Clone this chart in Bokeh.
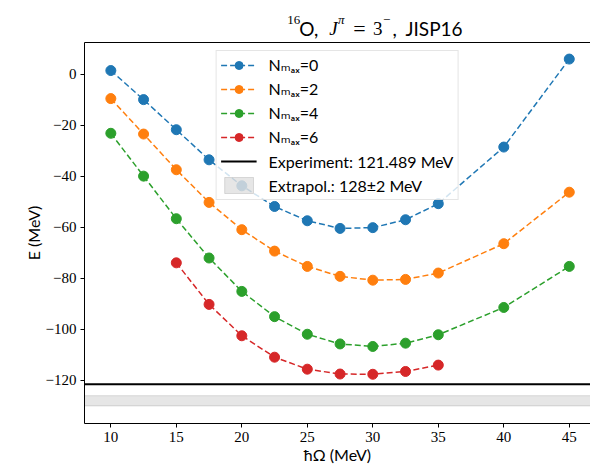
from bokeh.plotting import figure
from bokeh.layouts import column
from bokeh.models import (Label, Legend, LegendItem, LinearAxis, FixedTicker,
                          Range1d, CustomJSTickFormatter)
from bokeh.embed import file_html
from bokeh.resources import INLINE

# ---------------- data ----------------
hw_all = [10, 12.5, 15, 17.5, 20, 22.5, 25, 27.5, 30, 32.5, 35, 40, 45]
hw_n6 = [15, 17.5, 20, 22.5, 25, 27.5, 30, 32.5, 35]
e_n0 = [1.5, -9.9, -21.7, -33.5, -43.7, -51.8, -57.4, -60.4, -60.1, -57.0, -50.7, -28.5, 6.0]
e_n2 = [-9.5, -23.4, -37.4, -50.2, -60.9, -69.3, -75.3, -79.2, -80.7, -80.4, -77.9, -66.4, -46.2]
e_n4 = [-23.1, -39.9, -56.6, -72.0, -85.1, -95.0, -101.9, -105.7, -106.7, -105.4, -102.1, -91.4, -75.3]
e_n6 = [-73.9, -90.2, -102.5, -110.9, -115.6, -117.5, -117.6, -116.5, -114.0]
series_labels = ["Nₘₐₓ=0", "Nₘₐₓ=2", "Nₘₐₓ=4", "Nₘₐₓ=6"]
series_colors = ["#1f77b4", "#ff7f0e", "#2ca02c", "#d62728"]
exp_energy = -121.489
extrap_energy = -128.0
extrap_err = 2.0
exp_label = "Experiment: 121.489 MeV"
extrap_label = "Extrapol.: 128±2 MeV"
x_ticks = [10, 15, 20, 25, 30, 35, 40, 45]
y_ticks = [0, -20, -40, -60, -80, -100, -120]
x_lim = (7.99, 46.62)
y_lim = (-136.9, 12.5)
x_title = "ħΩ (MeV)"
y_title = "E (MeV)"

SANS = "Lato, DejaVu Sans"
SERIF = "Liberation Serif"

W, H = 590, 474
TH = 40  # title strip height

# ---------------- title strip (pixel coordinates) ----------------
t = figure(width=W, height=TH, output_backend="svg", toolbar_location=None,
           x_range=Range1d(0, W), y_range=Range1d(0, TH),
           x_axis_type=None, y_axis_type=None,
           min_border_left=0, min_border_right=0, min_border_top=0, min_border_bottom=0,
           outline_line_color=None)
t.title.visible = False
t.grid.visible = False
t.background_fill_color = "white"
t.border_fill_color = "white"


def tl(text, x, y, font, size, style="normal"):
    t.add_layout(Label(x=x, y=y, text=text, text_font=font, text_font_size=size,
                       text_font_style=style, text_color="black",
                       text_align="left", text_baseline="alphabetic"))


# 16O, J^pi = 3^-, JISP16   (baseline at 12 px above the strip's bottom)
tl("16", 236.5, 20.5, SERIF, "13px")
tl("O,", 250.5, 12, SANS, "19px")
tl("J", 285.5, 12, SERIF, "19px", "italic")
tl("π", 295.5, 21, SERIF, "13px", "italic")
tl("=", 313.5, 12, SERIF, "22px")
tl("3", 336.5, 12, SERIF, "19px")
tl("−", 348.0, 20.5, SERIF, "13px")
tl(",", 359.0, 12, SANS, "19px")
tl("JISP16", 374.3, 12, SANS, "19px")

# ---------------- main plot ----------------
p = figure(width=W, height=H - TH, output_backend="svg", toolbar_location=None,
           x_range=Range1d(*x_lim), y_range=Range1d(*y_lim),
           min_border_left=84, min_border_right=0, min_border_top=42 - TH,
           min_border_bottom=51, outline_line_color=None)
p.title.visible = False
p.xgrid.visible = False
p.ygrid.visible = False
p.background_fill_color = "white"
p.border_fill_color = "white"

fmt = CustomJSTickFormatter(code="return (tick < 0 ? '\u2212' : '') + Math.abs(tick).toString();")
for ax, ticks in ((p.xaxis[0], x_ticks), (p.yaxis[0], y_ticks)):
    ax.ticker = FixedTicker(ticks=ticks)
    ax.formatter = fmt
    ax.major_tick_out = 4
    ax.major_tick_in = 0
    ax.minor_tick_out = 0
    ax.minor_tick_in = 0
    ax.major_label_text_font = SERIF
    ax.major_label_text_font_size = "15px"
    ax.major_label_text_color = "black"
    ax.axis_line_color = "black"
    ax.major_tick_line_color = "black"
    ax.axis_line_width = 1
    ax.major_label_standoff = 4
    ax.axis_label_text_font = SANS
    ax.axis_label_text_font_size = "16px"
    ax.axis_label_text_font_style = "normal"
    ax.axis_label_text_color = "black"
    ax.axis_label_standoff = 0

p.xaxis[0].axis_label = x_title
p.yaxis[0].axis_label = y_title

top = LinearAxis(ticker=FixedTicker(ticks=[]), major_tick_out=0, major_tick_in=0,
                 minor_tick_out=0, minor_tick_in=0, major_label_text_font_size="0px",
                 axis_line_color="black", major_label_standoff=0)
p.add_layout(top, "above")

# band + experiment line
band = p.quad(left=[x_lim[0]], right=[x_lim[1]],
              bottom=[extrap_energy - extrap_err], top=[extrap_energy + extrap_err],
              fill_color="#808080", fill_alpha=0.2, line_color="#808080", line_alpha=0.25,
              line_width=1)
expl = p.line([x_lim[0], x_lim[1]], [exp_energy, exp_energy], line_color="black", line_width=2)

items = []
for xs, ys, lab, col in ((hw_all, e_n0, series_labels[0], series_colors[0]),
                         (hw_all, e_n2, series_labels[1], series_colors[1]),
                         (hw_all, e_n4, series_labels[2], series_colors[2]),
                         (hw_n6, e_n6, series_labels[3], series_colors[3])):
    rl = p.line(xs, ys, line_color=col, line_dash="6 3", line_width=1.5)
    rs = p.scatter(xs, ys, size=10, fill_color=col, line_color=col)
    items.append(LegendItem(label=lab, renderers=[rl, rs]))
items.append(LegendItem(label=exp_label, renderers=[expl]))
items.append(LegendItem(label=extrap_label, renderers=[band]))

legend = Legend(items=items, location="top_center", margin=8, padding=4, spacing=4,
                label_height=20, glyph_height=20, glyph_width=36, label_standoff=12,
                border_line_color="#cccccc", border_line_width=1,
                background_fill_color="white", background_fill_alpha=0.8,
                label_text_font=SANS, label_text_font_size="16px",
                label_text_color="black")
p.add_layout(legend)

layout = column(t, p, spacing=0)
open("out.html", "w").write(file_html(layout, INLINE))
